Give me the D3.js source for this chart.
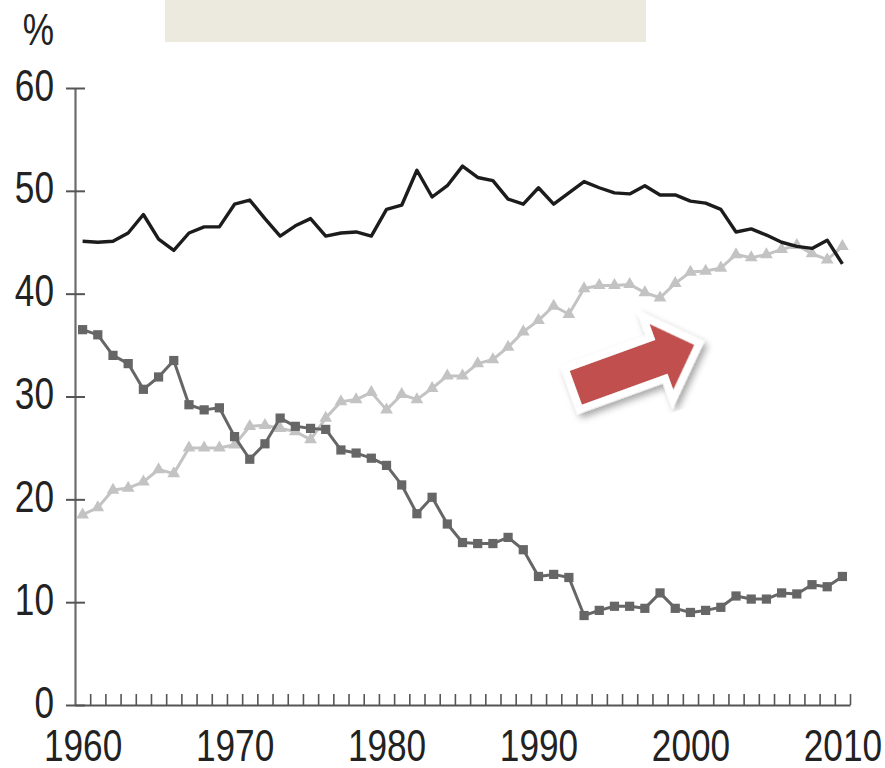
<!DOCTYPE html>
<html>
<head>
<meta charset="utf-8">
<script src="https://cdn.jsdelivr.net/npm/d3@7"></script>
<style>
  html, body { margin: 0; padding: 0; background: #fff; }
  svg { display: block; }
  .lbl { font-family: "Liberation Sans", Arial, sans-serif; font-size: 44px; fill: #222; }
</style>
</head>
<body>
<div id="chart"></div>
<script>
// Years 1960..2010, shares in %
const years = d3.range(1960, 2011);

const seriesTop = [
  45.1, 45.0, 45.1, 45.9, 47.7, 45.3, 44.2, 45.9, 46.5, 46.5,
  48.7, 49.1, 47.3, 45.6, 46.6, 47.3, 45.6, 45.9, 46.0, 45.6,
  48.2, 48.6, 52.0, 49.4, 50.5, 52.4, 51.3, 51.0, 49.2, 48.7,
  50.3, 48.7, 49.8, 50.9, 50.3, 49.8, 49.7, 50.5, 49.6, 49.6,
  49.0, 48.8, 48.2, 46.0, 46.3, 45.7, 45.0, 44.6, 44.4, 45.2,
  42.9
];

const seriesSquares = [
  36.5, 36.0, 34.0, 33.2, 30.7, 31.9, 33.5, 29.2, 28.7, 28.9,
  26.1, 23.9, 25.4, 27.9, 27.1, 26.9, 26.8, 24.8, 24.5, 24.0,
  23.3, 21.4, 18.6, 20.2, 17.6, 15.8, 15.7, 15.7, 16.3, 15.1,
  12.5, 12.7, 12.4, 8.7, 9.2, 9.6, 9.6, 9.4, 10.9, 9.4,
  9.0, 9.2, 9.5, 10.6, 10.3, 10.3, 10.9, 10.8, 11.7, 11.5,
  12.5
];

const seriesTriangles = [
  18.5, 19.2, 20.9, 21.1, 21.7, 22.9, 22.5, 25.0, 25.0, 25.0,
  25.3, 27.1, 27.2, 26.9, 26.6, 25.8, 27.9, 29.5, 29.7, 30.4,
  28.7, 30.2, 29.7, 30.8, 32.0, 32.0, 33.2, 33.6, 34.8, 36.3,
  37.4, 38.8, 38.0, 40.5, 40.8, 40.8, 40.9, 40.1, 39.6, 41.0,
  42.1, 42.2, 42.5, 43.8, 43.5, 43.8, 44.3, 44.7, 43.9, 43.3,
  44.6
];

const yTicks = [0, 10, 20, 30, 40, 50, 60];
const xLabels = [1960, 1970, 1980, 1990, 2000, 2010];
const unitLabel = "%";

const W = 885, H = 768;
const NARROW = 0.8; // condensed look of the original typeface

const svg = d3.select("#chart").append("svg")
  .attr("width", W).attr("height", H);

svg.append("rect").attr("width", W).attr("height", H).attr("fill", "#fff");

// beige title placeholder band at the top
svg.append("rect")
  .attr("x", 165).attr("y", 0).attr("width", 481).attr("height", 42)
  .attr("fill", "#ece9df");

// each year sits in the middle of a one-year slot; ticks mark slot edges
const x = d3.scaleLinear().domain([1959.5, 2010.5]).range([75, 850]);
const y = d3.scaleLinear().domain([0, 60]).range([705, 88]);

// y axis
const yAxis = svg.append("g")
  .attr("transform", "translate(75,0)")
  .call(d3.axisLeft(y).tickValues(yTicks).tickSizeInner(9).tickSizeOuter(0).tickPadding(0));
yAxis.select(".domain").attr("stroke", "#6b6b6b").attr("stroke-width", 2.2);
yAxis.selectAll(".tick line").attr("x1", 10).attr("x2", -9)
  .attr("stroke", "#555").attr("stroke-width", 2);
yAxis.selectAll(".tick text").attr("class", "lbl").attr("fill", null)
  .attr("dy", null).attr("x", -21 / NARROW).attr("y", 12)
  .attr("transform", `scale(${NARROW},1)`);

// x axis: minor ticks at slot boundaries
const xMinor = svg.append("g")
  .attr("transform", `translate(0,${y(0)})`)
  .call(d3.axisTop(x).tickValues(d3.range(1960.5, 2011.5, 1)).tickSizeInner(11).tickSizeOuter(0).tickFormat(""));
xMinor.select(".domain").attr("stroke", "#555").attr("stroke-width", 2);
xMinor.selectAll(".tick line").attr("stroke", "#555").attr("stroke-width", 1.6);

// x labels every decade, centred on the year
const xLab = svg.append("g")
  .attr("transform", `translate(0,${y(0)})`)
  .call(d3.axisBottom(x).tickValues(xLabels).tickSize(0).tickPadding(0).tickFormat(d3.format("d")));
xLab.select(".domain").remove();
xLab.selectAll(".tick text").attr("class", "lbl").attr("fill", null)
  .attr("dy", null).attr("y", 56)
  .attr("transform", `scale(${NARROW},1)`);

svg.append("text").attr("class", "lbl")
  .attr("x", 54 / NARROW).attr("y", 45).attr("text-anchor", "end")
  .attr("transform", `scale(${NARROW},1)`)
  .text(unitLabel);

// lines
const line = d3.line()
  .x((d, i) => x(years[i]))
  .y((d) => y(d));

function drawSeries(values, color, width, marker) {
  const g = svg.append("g");
  g.append("path").datum(values)
    .attr("d", line)
    .attr("fill", "none")
    .attr("stroke", color)
    .attr("stroke-width", width)
    .attr("stroke-linejoin", "round");
  if (marker) {
    g.selectAll("path.mk").data(values).enter().append("path")
      .attr("class", "mk")
      .attr("d", d3.symbol().type(marker.type).size(marker.size))
      .attr("transform", (d, i) => `translate(${x(years[i])},${y(d)})`)
      .attr("fill", color);
  }
}

drawSeries(seriesTriangles, "#c3c3c3", 3, { type: d3.symbolTriangle, size: 70 });
drawSeries(seriesSquares, "#666666", 3, { type: d3.symbolSquare, size: 85 });
drawSeries(seriesTop, "#1c1c1c", 3.4, null);

// red block arrow annotation
const defs = svg.append("defs");
const flt = defs.append("filter").attr("id", "shadow")
  .attr("x", "-30%").attr("y", "-30%").attr("width", "160%").attr("height", "160%");
flt.append("feDropShadow")
  .attr("dx", 2).attr("dy", 5).attr("stdDeviation", 3.5)
  .attr("flood-color", "#000").attr("flood-opacity", 0.35);

const arrowLen = 126, headStart = 91, shaftHalf = 18, headHalf = 35;
const arrowPts = [
  [0, -shaftHalf], [headStart, -shaftHalf], [headStart, -headHalf],
  [arrowLen, 0],
  [headStart, headHalf], [headStart, shaftHalf], [0, shaftHalf]
];
svg.append("path")
  .attr("d", "M" + arrowPts.map((p) => p.join(",")).join("L") + "Z")
  .attr("transform", "translate(575.8,387.8) rotate(-19.9)")
  .attr("fill", "#c0504d")
  .attr("stroke", "#fff")
  .attr("stroke-width", 15)
  .attr("stroke-linejoin", "miter")
  .attr("paint-order", "stroke")
  .attr("filter", "url(#shadow)");
</script>
</body>
</html>
